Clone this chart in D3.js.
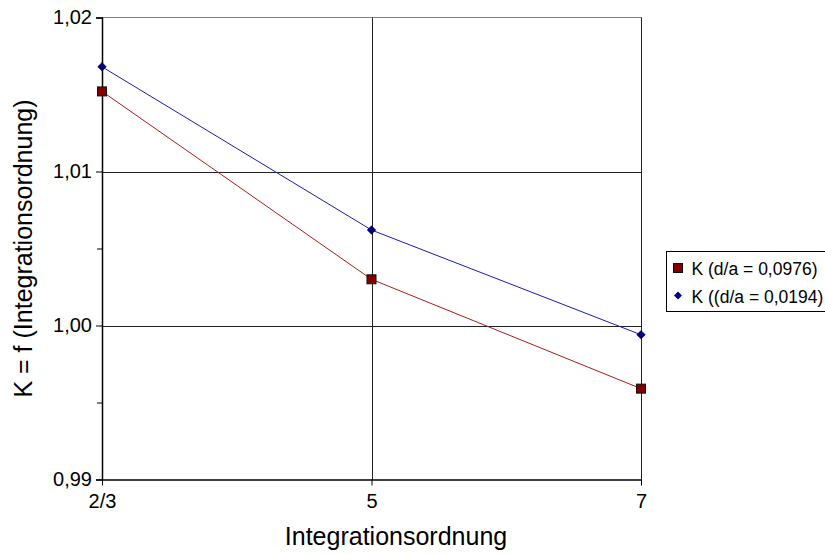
<!DOCTYPE html>
<html>
<head>
<meta charset="utf-8">
<script src="https://cdn.jsdelivr.net/npm/d3@7"></script>
<style>
  body { margin: 0; background: #fff; }
  svg text { font-family: Arial, "Liberation Sans", sans-serif; fill: #000; }
</style>
</head>
<body>
<script>
var categories = ["2/3", "5", "7"];
var seriesNames = ["K (d/a = 0,0976)", "K ((d/a = 0,0194)"];
var redValues = [1.0152, 1.0030, 0.9959];
var blueValues = [1.0168, 1.0062, 0.9994];
var yTicks = [0.99, 1.00, 1.01, 1.02];
var yMinorTicks = [0.995, 1.005, 1.015];

var width = 825, height = 554;
var plotLeft = 102, plotRight = 641, plotTop = 17.5, plotBottom = 479.5;

var svg = d3.select("body").append("svg")
    .attr("width", width)
    .attr("height", height);

var x = d3.scalePoint()
    .domain(categories)
    .range([plotLeft, plotRight]);

var y = d3.scaleLinear()
    .domain([0.99, 1.02])
    .range([plotBottom, plotTop]);

var fmt = function(d) { return d3.format(".2f")(d).replace(".", ","); };

// plot border (top and right)
svg.append("path")
    .attr("d", "M" + plotLeft + "," + plotTop + "H" + (plotRight + 0.5) + "V" + plotBottom)
    .attr("fill", "none")
    .attr("stroke", "#808080")
    .attr("stroke-width", 1);

// horizontal gridlines
svg.selectAll(".hgrid")
    .data([1.00, 1.01])
    .enter()
    .append("line")
    .attr("x1", plotLeft).attr("x2", plotRight)
    .attr("y1", function(d) { return Math.round(y(d)) + 0.5; })
    .attr("y2", function(d) { return Math.round(y(d)) + 0.5; })
    .attr("stroke", "#222")
    .attr("stroke-width", 1);

// vertical gridlines
svg.selectAll(".vgrid")
    .data(categories.slice(1))
    .enter()
    .append("line")
    .attr("x1", function(d) { return Math.round(x(d)) + 0.5; })
    .attr("x2", function(d) { return Math.round(x(d)) + 0.5; })
    .attr("y1", plotTop).attr("y2", plotBottom)
    .attr("stroke", "#222")
    .attr("stroke-width", 1);

// y axis
var yAxis = svg.append("g")
    .attr("transform", "translate(" + plotLeft + ",0)")
    .call(d3.axisLeft(y).tickValues(yTicks).tickFormat(fmt).tickSize(6).tickPadding(4));
yAxis.select(".domain").attr("stroke", "#000").attr("stroke-width", 1.5);
yAxis.selectAll(".tick line").attr("stroke", "#000");
yAxis.selectAll("text").style("font-size", "20px");

svg.append("g")
    .attr("transform", "translate(" + plotLeft + ",0)")
    .call(d3.axisLeft(y).tickValues(yMinorTicks).tickFormat("").tickSize(5))
    .call(function(g) { g.select(".domain").remove(); });

// x axis
var xAxis = svg.append("g")
    .attr("transform", "translate(0," + plotBottom + ")")
    .call(d3.axisBottom(x).tickSize(6).tickPadding(8).tickSizeOuter(0));
xAxis.select(".domain").attr("stroke", "#000").attr("stroke-width", 1.5);
xAxis.selectAll(".tick line").attr("stroke", "#000");
xAxis.selectAll("text").style("font-size", "20px");

// axis titles
svg.append("text")
    .attr("x", 396)
    .attr("y", 545)
    .attr("text-anchor", "middle")
    .style("font-size", "25px")
    .text("Integrationsordnung");

svg.append("text")
    .attr("transform", "translate(32," + ((plotTop + plotBottom) / 2) + ") rotate(-90)")
    .attr("text-anchor", "middle")
    .style("font-size", "25px")
    .text("K = f (Integrationsordnung)");

// lines
var line = d3.line()
    .x(function(d, i) { return x(categories[i]); })
    .y(function(d) { return y(d); });

svg.append("path")
    .datum(redValues)
    .attr("d", line)
    .attr("fill", "none")
    .attr("stroke", "#b01a1a")
    .attr("stroke-width", 1);

svg.append("path")
    .datum(blueValues)
    .attr("d", line)
    .attr("fill", "none")
    .attr("stroke", "#1a1ab8")
    .attr("stroke-width", 1);

// markers
svg.selectAll(".sq")
    .data(redValues)
    .enter()
    .append("rect")
    .attr("x", function(d, i) { return x(categories[i]) - 4.5; })
    .attr("y", function(d) { return y(d) - 4.5; })
    .attr("width", 9).attr("height", 9)
    .attr("fill", "#800000")
    .attr("stroke", "#111")
    .attr("stroke-width", 1);

var diamond = d3.symbol().type(d3.symbolDiamond2).size(48);
svg.selectAll(".dm")
    .data(blueValues)
    .enter()
    .append("path")
    .attr("d", diamond)
    .attr("transform", function(d, i) { return "translate(" + x(categories[i]) + "," + y(d) + ")"; })
    .attr("fill", "#000080")
    .attr("stroke", "#000040")
    .attr("stroke-width", 0.5);

// legend
var legend = svg.append("g").attr("transform", "translate(666.5,251.5)");
legend.append("rect")
    .attr("width", 170).attr("height", 60)
    .attr("fill", "#fff")
    .attr("stroke", "#000");

legend.append("rect")
    .attr("x", 7).attr("y", 12)
    .attr("width", 9).attr("height", 9)
    .attr("fill", "#800000")
    .attr("stroke", "#111");
legend.append("path")
    .attr("d", d3.symbol().type(d3.symbolDiamond2).size(40))
    .attr("transform", "translate(11.5,44)")
    .attr("fill", "#000080");

legend.selectAll(".lt")
    .data(seriesNames)
    .enter()
    .append("text")
    .attr("x", 25)
    .attr("y", function(d, i) { return 17 + i * 28; })
    .attr("dy", "0.35em")
    .style("font-size", "17.5px")
    .text(function(d) { return d; });
</script>
</body>
</html>
